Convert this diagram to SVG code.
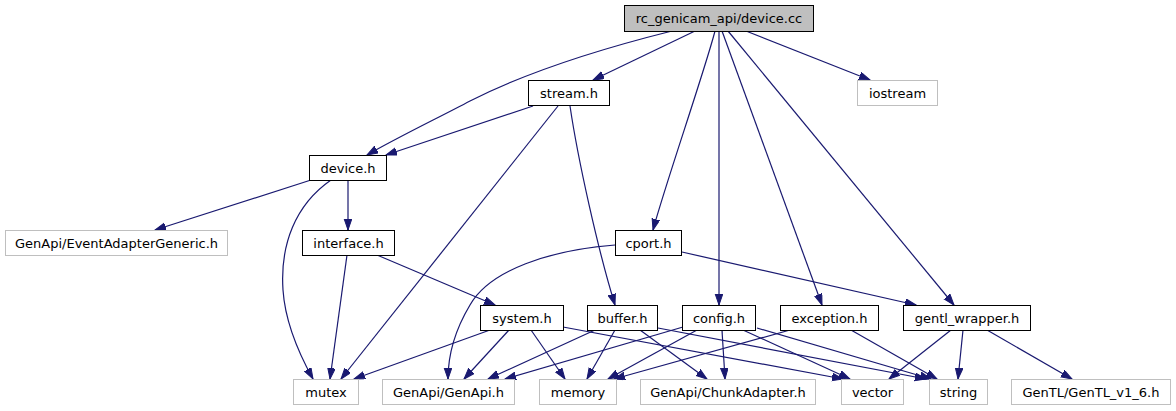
<svg xmlns="http://www.w3.org/2000/svg" width="1176" height="411" viewBox="0 0 1176 411">
<defs>
<marker id="ah" markerUnits="userSpaceOnUse" markerWidth="12" markerHeight="9" refX="11" refY="4" orient="auto">
<path d="M0,0.2 L11,4 L0,7.8 z" fill="#191970" stroke="#191970" stroke-width="1"/>
</marker>
<style>
.n rect{fill:#fff;stroke:#000;stroke-width:1}
.g rect{fill:#fff;stroke:#bfbfbf;stroke-width:1}
.root rect{fill:#bfbfbf;stroke:#000;stroke-width:1}
text{font-family:"DejaVu Sans","Liberation Sans",sans-serif;font-size:13px;text-anchor:middle;fill:#000}
#edges path{fill:none;stroke:#191970;stroke-width:1.2;marker-end:url(#ah)}
</style>
</defs>
<rect width="1176" height="411" fill="#fff"/>
<g id="edges">
<path d="M672,31 C608,47 531,70 470,101 C440,117 400,136 367,155"/>
<path d="M695,31 L593,80"/>
<path d="M746,31 L870,80"/>
<path d="M715,31 C705,70 665,185 653,230"/>
<path d="M719,31 L719,305"/>
<path d="M722,31 L822,305"/>
<path d="M728,31 L954,305"/>
<path d="M533,106 L386,155"/>
<path d="M558,106 L341,379"/>
<path d="M570,106 C578,160 598,250 615,305"/>
<path d="M311,180 L155,230"/>
<path d="M331,180 C295,205 280,245 283,290 C285,320 298,352 313,379"/>
<path d="M348,180 L348,230"/>
<path d="M347,255 L330,379"/>
<path d="M377,255 L495,305"/>
<path d="M615,245 C550,250 490,270 470,305 C455,330 448,355 448,379"/>
<path d="M682,252 L916,305"/>
<path d="M490,330 L354,379"/>
<path d="M509,330 L464,379"/>
<path d="M531,330 L565,379"/>
<path d="M563,327 L843,379"/>
<path d="M595,330 L488,379"/>
<path d="M615,330 L587,379"/>
<path d="M640,330 L707,379"/>
<path d="M658,328 L926,379"/>
<path d="M683,327 L505,379"/>
<path d="M697,330 L608,379"/>
<path d="M722,330 L725,379"/>
<path d="M743,330 L850,379"/>
<path d="M757,328 L931,379"/>
<path d="M790,330 L614,379"/>
<path d="M851,330 L937,379"/>
<path d="M951,330 L889,379"/>
<path d="M963,330 L958,379"/>
<path d="M987,330 L1072,379"/>
</g>
<g id="node-device-cc" class="root"><rect x="624.5" y="5.5" width="189" height="26"/><text x="719" y="23">rc_genicam_api/device.cc</text></g>
<g id="node-stream-h" class="n"><rect x="528.5" y="80.5" width="81" height="25"/><text x="569" y="97.6">stream.h</text></g>
<g id="node-iostream" class="g"><rect x="857.5" y="80.5" width="80" height="25"/><text x="897.5" y="97.6">iostream</text></g>
<g id="node-device-h" class="n"><rect x="309.5" y="155.5" width="77" height="25"/><text x="348" y="172.6">device.h</text></g>
<g id="node-eventadapter" class="g"><rect x="5.5" y="230.5" width="222" height="25"/><text x="116.5" y="247.6">GenApi/EventAdapterGeneric.h</text></g>
<g id="node-interface-h" class="n"><rect x="302.5" y="230.5" width="92" height="25"/><text x="348.5" y="247.6">interface.h</text></g>
<g id="node-cport-h" class="n"><rect x="615.5" y="230.5" width="66" height="25"/><text x="648.5" y="247.6">cport.h</text></g>
<g id="node-system-h" class="n"><rect x="480.5" y="305.5" width="83" height="25"/><text x="522" y="322.6">system.h</text></g>
<g id="node-buffer-h" class="n"><rect x="587.5" y="305.5" width="70" height="25"/><text x="622.5" y="322.6">buffer.h</text></g>
<g id="node-config-h" class="n"><rect x="682.5" y="305.5" width="73" height="25"/><text x="719" y="322.6">config.h</text></g>
<g id="node-exception-h" class="n"><rect x="780.5" y="305.5" width="98" height="25"/><text x="829.5" y="322.6">exception.h</text></g>
<g id="node-gentl-wrapper-h" class="n"><rect x="903.5" y="305.5" width="127" height="25"/><text x="967" y="322.6">gentl_wrapper.h</text></g>
<g id="node-mutex" class="g"><rect x="293.5" y="379.5" width="65" height="25"/><text x="326" y="396.6">mutex</text></g>
<g id="node-genapi-h" class="g"><rect x="382.5" y="379.5" width="132" height="25"/><text x="448.5" y="396.6">GenApi/GenApi.h</text></g>
<g id="node-memory" class="g"><rect x="539.5" y="379.5" width="77" height="25"/><text x="578" y="396.6">memory</text></g>
<g id="node-chunkadapter" class="g"><rect x="640.5" y="379.5" width="175" height="25"/><text x="728" y="396.6">GenApi/ChunkAdapter.h</text></g>
<g id="node-vector" class="g"><rect x="841.5" y="379.5" width="62" height="25"/><text x="872.5" y="396.6">vector</text></g>
<g id="node-string" class="g"><rect x="929.5" y="379.5" width="58" height="25"/><text x="958.5" y="396.6">string</text></g>
<g id="node-gentl-h" class="g"><rect x="1011.5" y="379.5" width="159" height="25"/><text x="1091" y="396.6">GenTL/GenTL_v1_6.h</text></g>
</svg>
